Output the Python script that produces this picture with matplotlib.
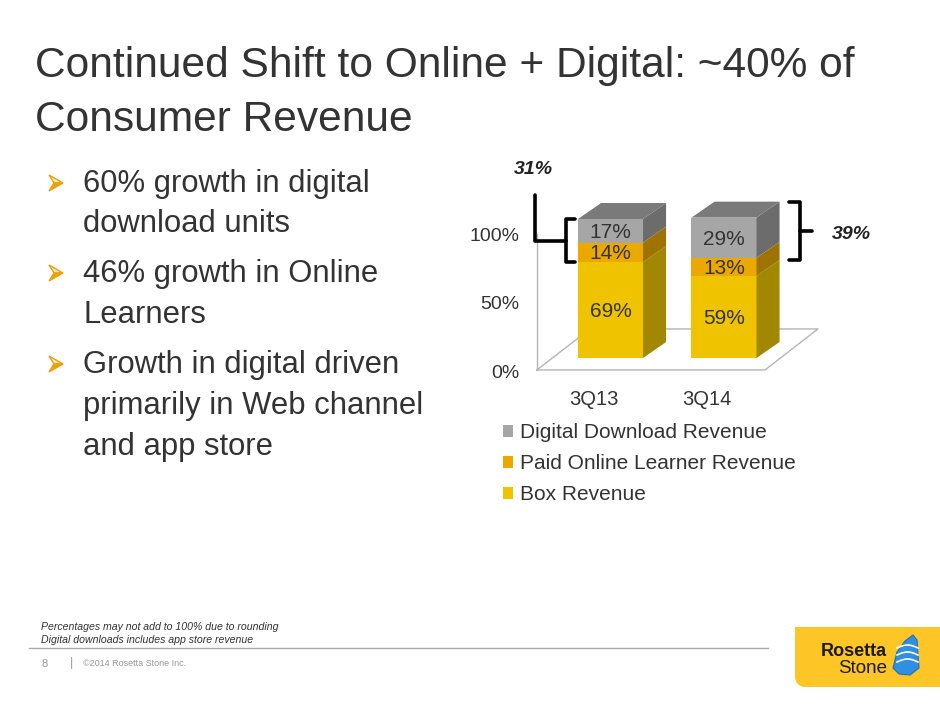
import numpy as np
import matplotlib
matplotlib.use("Agg")
import matplotlib.pyplot as plt
from matplotlib.patches import Polygon, Patch

plt.rcParams['font.family'] = ['Liberation Sans', 'DejaVu Sans']

# data
categories = ['3Q13', '3Q14']
box_rev = [69, 59]
online_rev = [14, 13]
digital_rev = [17, 29]
series_names = ['Box Revenue', 'Paid Online Learner Revenue', 'Digital Download Revenue']
digital_share = ['31%', '39%']
y_ticks = [0, 50, 100]

bullets = [
    ['60% growth in digital', 'download units'],
    ['46% growth in Online', 'Learners'],
    ['Growth in digital driven', 'primarily in Web channel', 'and app store'],
]

W, H = 940, 705
fig = plt.figure(figsize=(W / 100, H / 100), dpi=100)


def fx(x):
    return np.asarray(x) / W


def fy(y):
    return 1 - np.asarray(y) / H


TXT = '#333333'

# title
fig.text(fx(35), fy(77), 'Continued Shift to Online + Digital: ~40% of', fontsize=30.6,
         color=TXT, va='baseline')
fig.text(fx(35), fy(131), 'Consumer Revenue', fontsize=30.6, color=TXT, va='baseline')

# bullets
baselines = [[192, 232], [282, 323], [373, 414, 455]]
for lines, bl in zip(bullets, baselines):
    cy = bl[0] - 9
    # arrowhead bullet: light upper half, filled lower half
    up = [(49, cy - 8), (63, cy), (54, cy)]
    lo = [(54, cy), (63, cy), (49, cy + 8)]
    fig.add_artist(Polygon([(fx(a), fy(b)) for a, b in up], closed=True,
                           facecolor='#FBE7B0', edgecolor='#E9A20E', lw=1,
                           transform=fig.transFigure))
    fig.add_artist(Polygon([(fx(a), fy(b)) for a, b in lo], closed=True,
                           facecolor='#EBA10F', edgecolor='#E9A20E', lw=1,
                           transform=fig.transFigure))
    for line, b in zip(lines, bl):
        fig.text(fx(83), fy(b), line, fontsize=22.3, color=TXT, va='baseline')

# chart axes: bar centres at 0 and 1
ux = 113.5     # px per x unit
uy = 1.39      # px per percent
x0px, y0px = 610.5, 358
xl = (-1.2, 2.3)
yl = (-30, 150)
left = x0px + ux * xl[0]
right = x0px + ux * xl[1]
bot = y0px - uy * yl[0]
top = y0px - uy * yl[1]
ax = fig.add_axes([fx(left), fy(bot), (right - left) / W, (bot - top) / H])
ax.set_xlim(*xl)
ax.set_ylim(*yl)
ax.axis('off')

# 3d geometry (data units)
bw = 0.573
ddx, ddy = 0.203, 11.5
fl_y = -8.6
fl_x0, fl_x1 = -0.648, 1.361
fl_dx, fl_dy = 0.467, 29.5
grid_c = '#b5b5b5'

# floor and wall
ax.plot([fl_x0, fl_x1, fl_x1 + fl_dx, fl_x0 + fl_dx, fl_x0],
        [fl_y, fl_y, fl_y + fl_dy, fl_y + fl_dy, fl_y], color=grid_c, lw=1, zorder=1)
ax.plot([fl_x0, fl_x0], [fl_y, fl_y + 98], color=grid_c, lw=1, zorder=1)

# y labels on the front plane
for v in y_ticks:
    ax.text(-0.806, fl_y + v * 0.985 - 2.2, f'{v}%', ha='right', va='center',
            fontsize=14, color=TXT)

xs = np.arange(len(categories))
for i, c in enumerate(categories):
    ax.text(xs[i] - 0.15, -29.5, c, ha='center', va='center', fontsize=14.5, color=TXT)

front_cols = ['#EFC300', '#EBA900', '#A6A6A6']
side_cols = ['#A28700', '#9E7300', '#6C6C6C']
top_col = '#7A7A7A'
stack = [box_rev, online_rev, digital_rev]

bottoms = np.zeros(len(categories))
for k, vals in enumerate(stack):
    vals = np.array(vals, dtype=float)
    ax.bar(xs, vals, bottom=bottoms, width=bw, color=front_cols[k], zorder=3,
           linewidth=0)
    for i in range(len(xs)):
        xr = xs[i] + bw / 2
        b, t = bottoms[i], bottoms[i] + vals[i]
        ax.add_patch(Polygon([(xr, b), (xr + ddx, b + ddy), (xr + ddx, t + ddy), (xr, t)],
                             closed=True, facecolor=side_cols[k], edgecolor='none',
                             zorder=3))
        ax.text(xs[i], (b + t) / 2 - 1, f'{int(vals[i])}%', ha='center', va='center',
                fontsize=15, color=TXT, zorder=5)
    bottoms = bottoms + vals

for i in range(len(xs)):
    t = bottoms[i]
    xl_, xr_ = xs[i] - bw / 2, xs[i] + bw / 2
    ax.add_patch(Polygon([(xl_, t), (xr_, t), (xr_ + ddx, t + ddy), (xl_ + ddx, t + ddy)],
                         closed=True, facecolor=top_col, edgecolor='none', zorder=3))

# brackets
bk = dict(color='black', lw=2.6, solid_joinstyle='round', solid_capstyle='round',
          zorder=6, clip_on=False)
# left bracket around digital share of 3Q13
bx = -0.392
b0, b1 = box_rev[0], bottoms[0]
bm = (b0 + b1) / 2
ax.plot([bx + 0.08, bx, bx, bx + 0.08], [b1, b1, b0, b0], **bk)
ax.plot([bx, -0.666, -0.666], [bm, bm, 117], **bk)
ax.text(-0.683, 135.5, digital_share[0], ha='center', va='center', fontsize=14,
        fontweight='bold', style='italic', color='#222222')
# right bracket around digital share of 3Q14
rx = 1.67
r0, r1 = box_rev[1] + ddy, bottoms[1] + ddy
rm = (r0 + r1) / 2
ax.plot([rx - 0.1, rx, rx, rx - 0.1], [r1, r1, r0, r0], **bk)
ax.plot([rx, 1.775], [rm, rm], **bk)
ax.text(2.119, 88.5, digital_share[1], ha='center', va='center', fontsize=14,
        fontweight='bold', style='italic', color='#222222')

# legend
handles = [Patch(facecolor=front_cols[k], edgecolor='none', label=series_names[k])
           for k in [2, 1, 0]]
leg = fig.legend(handles=handles, loc='upper left', bbox_to_anchor=(fx(503), fy(423)),
                 frameon=False, fontsize=15, handlelength=0.5, handleheight=0.5,
                 handletextpad=0.3, labelspacing=0.58, borderpad=0, borderaxespad=0)
for t in leg.get_texts():
    t.set_color(TXT)

# footnotes
fig.text(fx(41), fy(630), 'Percentages may not add to 100% due to rounding',
         fontsize=7.6, style='italic', color=TXT, va='baseline')
fig.text(fx(41), fy(643), 'Digital downloads includes app store revenue',
         fontsize=7.6, style='italic', color=TXT, va='baseline')
fig.add_artist(plt.Line2D([fx(29), fx(768)], [fy(647.5), fy(647.5)], color='#aaaaaa',
                          lw=1))
fig.text(fx(41), fy(664), '8', fontsize=8, color='#999999', va='center')
fig.text(fx(70), fy(663), '|', fontsize=9, color='#999999', va='center')
fig.text(fx(83), fy(664), '\u00a92014 Rosetta Stone Inc.', fontsize=6.5,
         color='#999999', va='center')

# logo
r = 10
ang = np.linspace(np.pi, 1.5 * np.pi, 12)
corner = [(fx(795 + r + r * np.cos(a)), fy(687 - r - r * np.sin(a))) for a in ang]
logo = [(fx(795), fy(627)), (fx(940), fy(627)), (fx(940), fy(687))] + corner[::-1]
fig.add_artist(Polygon(logo, closed=True, facecolor='#FDC526', edgecolor='none',
                       transform=fig.transFigure))
fig.text(fx(887), fy(656), 'Rosetta', fontsize=13, fontweight='bold', color='#1a1a1a',
         ha='right', va='baseline')
fig.text(fx(887), fy(673), 'Stone', fontsize=13.5, color='#1a1a1a', ha='right',
         va='baseline')
stone = [(893, 668), (897, 652), (905, 641), (913, 635), (917, 640), (919, 668),
         (910, 675), (899, 674)]
fig.add_artist(Polygon([(fx(a), fy(b)) for a, b in stone], closed=True,
                       facecolor='#2F8FE0', edgecolor='#1F6FBF', lw=0.8,
                       transform=fig.transFigure))
for yy in [648, 655, 662]:
    xs_s = np.linspace(897, 918, 10)
    ys_s = yy - 3 * np.sin((xs_s - 897) / 21 * np.pi)
    fig.add_artist(plt.Line2D(fx(xs_s), fy(ys_s), color='white', lw=1.2))

fig.savefig('out.png', dpi=100)
